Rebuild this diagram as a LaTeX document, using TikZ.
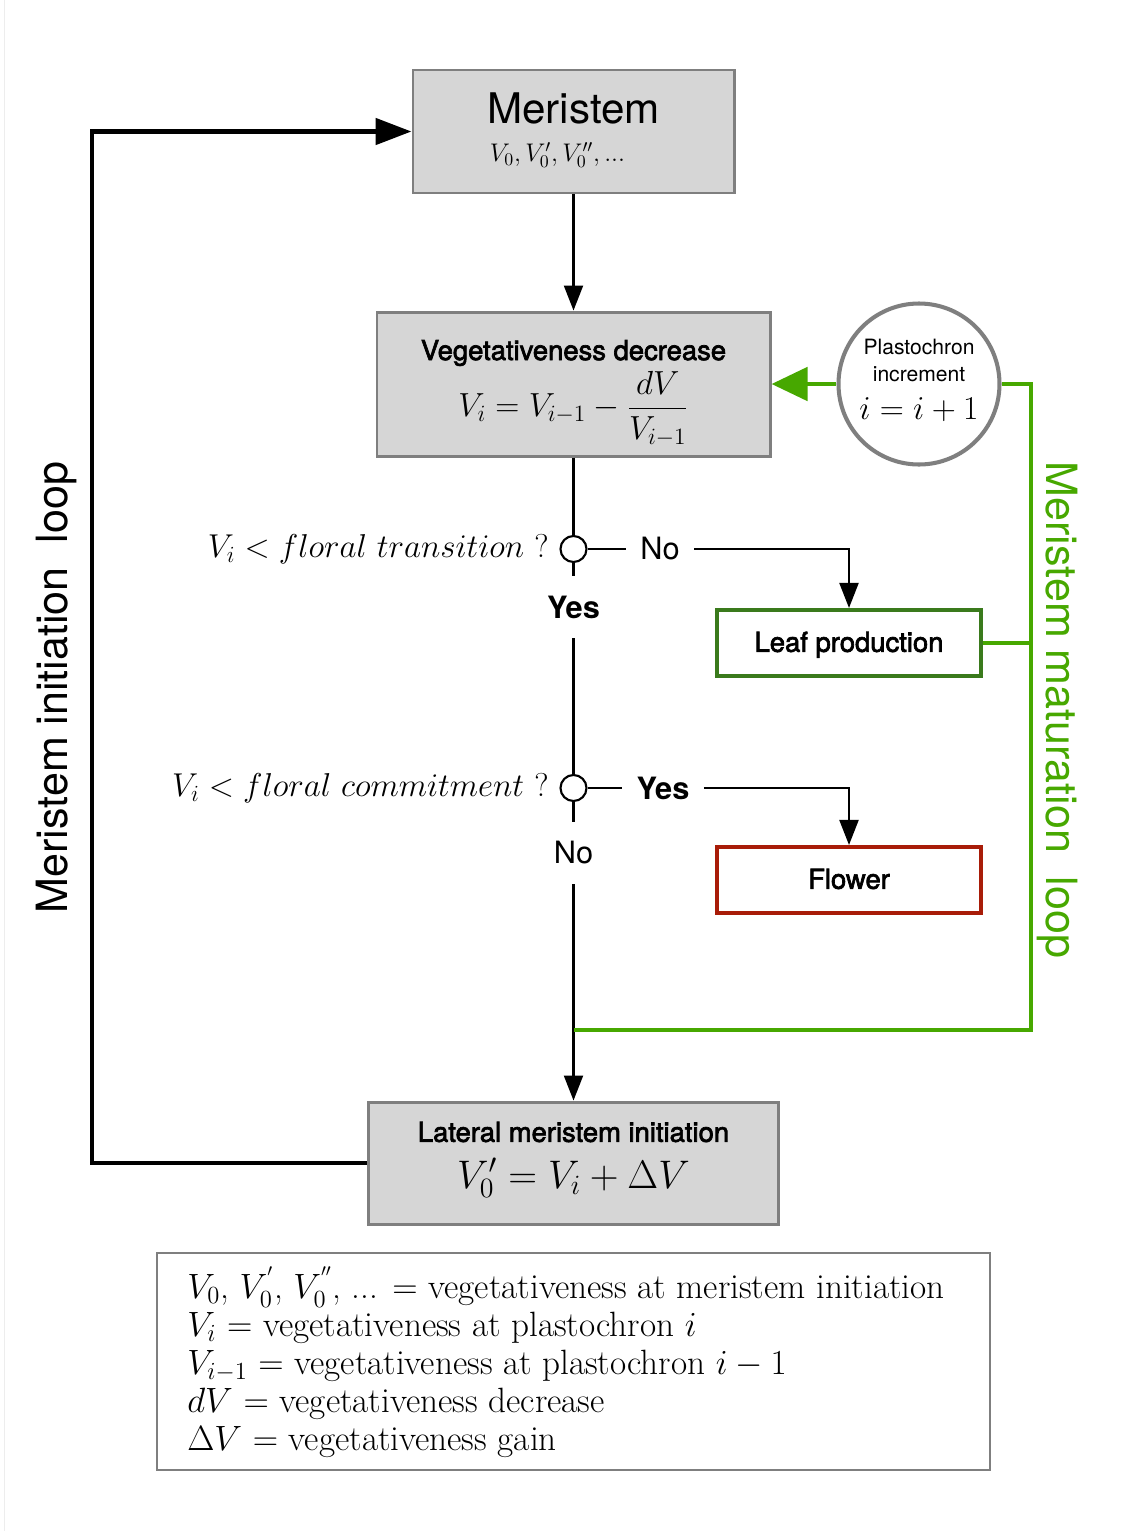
\documentclass[tikz,border=0pt]{standalone}
\usepackage{fix-cm}
\usepackage{amsmath}
\usepackage{fontspec}
\usepackage{tikz}
\usetikzlibrary{arrows.meta}
\newfontfamily\helv{TeX Gyre Heros}
\newfontfamily\helvmed[FakeBold=2.5]{TeX Gyre Heros}
\definecolor{boxgray}{HTML}{D6D6D6}
\definecolor{edgegray}{HTML}{7F7F7F}
\definecolor{loopgreen}{HTML}{47A800}
\definecolor{leafgreen}{HTML}{3A7A1C}
\definecolor{flowerred}{HTML}{A81C08}
\tikzset{
	graybox/.style={draw=edgegray, fill=boxgray, line width=1.7pt},
	boxtitle/.style={font=\helvmed\fontsize{15.6}{18}\selectfont},
	outbox/.style={draw, fill=white, line width=2.3pt, minimum width=5.28cm, minimum height=1.32cm, text depth=0.05cm, boxtitle},
	choice/.style={circle, draw, fill=white, line width=1.2pt, minimum size=0.52cm, inner sep=0pt},
	answer/.style={font=\helv\fontsize{17.5}{20}\selectfont, inner xsep=8pt, inner ysep=11pt},
	boldanswer/.style={answer, font=\helv\bfseries\fontsize{17.5}{20}\selectfont},
	condition/.style={anchor=east, font=\fontsize{18.8}{22}\selectfont, inner sep=0pt},
	link/.style={line width=1.2pt},
	flow/.style={link, -{Triangle[length=0.5cm,width=0.38cm]}},
	greenloop/.style={loopgreen, line width=2.5pt},
}
\begin{document}
\begin{tikzpicture}[y=-1cm]
	\useasboundingbox (0,0) rectangle (22.6,30.62);
	\draw[black!7] (0.09,0) -- (0.09,30.62);
	% boxes of the main column
	\node[graybox, minimum width=6.42cm, minimum height=2.46cm] (mer) at (11.47,2.63) {};
	\node[font=\helv\fontsize{24}{28}\selectfont] (mertitle) at (11.47,2.16) {Meristem};
	\node[font=\fontsize{14.5}{17}\selectfont] (merval) at (11.15,3.1) {$V_0,V_0',V_0'',...$};
	\node[graybox, minimum width=7.86cm, minimum height=2.88cm] (vdec) at (11.47,7.68) {};
	\node[boxtitle] (vdectitle) at (11.47,7.06) {Vegetativeness decrease};
	\node[font=\fontsize{19}{22}\selectfont] (vdecval) at (11.47,8.18) {$V_i = V_{i-1} - \dfrac{dV}{V_{i-1}}$};
	\node[graybox, minimum width=8.2cm, minimum height=2.44cm] (lat) at (11.47,23.26) {};
	\node[boxtitle] (lattitle) at (11.47,22.64) {Lateral meristem initiation};
	\node[font=\fontsize{22.7}{26}\selectfont] (latval) at (11.47,23.56) {$V_0' = V_i + \Delta V$};
	% plastochron
	\node[circle, draw=edgegray, fill=white, line width=2.3pt, minimum size=3.22cm] (plast) at (18.38,7.68) {};
	\node[font=\helv\fontsize{12}{14}\selectfont] (plasttop) at (18.38,6.94) {Plastochron};
	\node[font=\helv\fontsize{12}{14}\selectfont] (plastmid) at (18.38,7.48) {increment};
	\node[font=\fontsize{19}{22}\selectfont] (plastval) at (18.38,8.2) {$i = i + 1$};
	% decisions
	\node[choice] (dec1) at (11.47,10.98) {};
	\node[condition] (cond1) at (10.98,10.98) {$V_i < floral\ transition\ ?$};
	\node[answer] (no1) at (13.2,10.98) {No};
	\node[boldanswer] (yes1) at (11.47,12.14) {Yes};
	\node[choice] (dec2) at (11.47,15.76) {};
	\node[condition] (cond2) at (10.98,15.76) {$V_i < floral\ commitment\ ?$};
	\node[boldanswer] (yes2) at (13.26,15.76) {Yes};
	\node[answer] (no2) at (11.47,17.06) {No};
	\node[outbox, draw=leafgreen] (leaf) at (16.98,12.86) {Leaf production};
	\node[outbox, draw=flowerred] (flower) at (16.98,17.6) {Flower};
	% connectors
	\draw[flow] (mer) -- (vdec);
	\draw[link] (vdec) -- (dec1);
	\draw[link] (dec1) -- (no1);
	\draw[flow] (no1) -| (leaf);
	\draw[link] (dec1) -- (yes1);
	\draw[link] (yes1) -- (dec2);
	\draw[link] (dec2) -- (yes2);
	\draw[flow] (yes2) -| (flower);
	\draw[link] (dec2) -- (no2);
	\draw[flow] (no2) -- (lat);
	% loops
	\coordinate (join) at (11.47,20.6);
	\coordinate (gright) at (20.62,20.6);
	\draw[greenloop, line width=2.8pt, -{Triangle[length=0.72cm,width=0.66cm]}] (plast) -- (vdec);
	\draw[greenloop] (plast) -| (gright) -- (join);
	\draw[greenloop] (leaf) -- (leaf -| gright);
	\draw[line width=2.8pt, -{Triangle[length=0.72cm,width=0.52cm]}] (lat.west) -- (1.84,23.26) |- (mer.west);
	\node[rotate=90, font=\helv\fontsize{24.5}{28}\selectfont] (initlabel) at (1.13,13.75) {Meristem initiation\ \ loop};
	\node[rotate=-90, loopgreen, font=\helv\fontsize{24.5}{28}\selectfont] (maturlabel) at (21.15,14.2) {Meristem maturation\ \ loop};
	% legend
	\node[draw=edgegray, fill=white, line width=1.2pt, minimum width=16.66cm, minimum height=4.34cm] (legend) at (11.47,27.23) {};
	\node[anchor=west, align=left, inner sep=0pt, font=\fontsize{20}{21.6}\selectfont] (legendtext) at (3.74,27.24) {%
		$V_0$, $V_0^{'}$, $V_0^{''}$, ... $=$ vegetativeness at meristem initiation\\
		$V_i$ $=$ vegetativeness at plastochron $i$\\
		$V_{i-1}$ $=$ vegetativeness at plastochron $i-1$\\
		$dV$ $=$ vegetativeness decrease\\
		$\Delta V$ $=$ vegetativeness gain};
\end{tikzpicture}
\end{document}
